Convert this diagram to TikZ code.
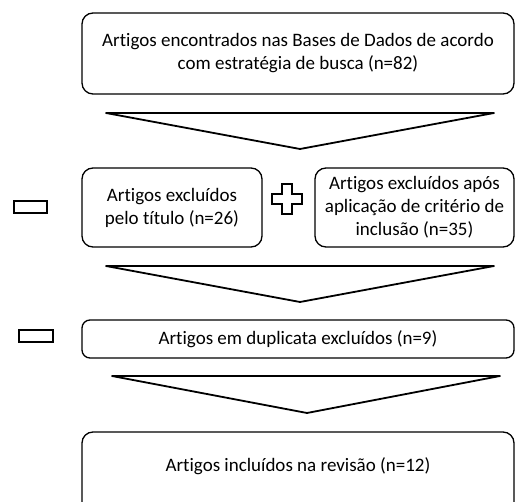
\documentclass[tikz,border=0pt]{standalone}
\usepackage{fontspec}
\setmainfont{Carlito}[Ligatures=NoCommon]
\usepackage{tikz}
\usetikzlibrary{positioning,calc}

\begin{document}
\begin{tikzpicture}[x = 1pt, y = -1pt,
  box/.style = {draw, line width=1.3pt, rounded corners=11pt, align=center,
    font=\fontsize{19}{23}\selectfont, inner sep=0pt},
  chev/.style = {draw, line width=1.8pt, line join=round},
  sign/.style = {draw, line width=1.6pt, fill=white}]
\useasboundingbox (0,0) rectangle (515,502);
\clip (0,0) rectangle (515,502);

\node[box, minimum width=432pt, minimum height=81pt] (busca) at (298, 53.5)
  {Artigos encontrados nas Bases de Dados de acordo\\com estratégia de busca (n=82)};
\node[box, minimum width=180pt, minimum height=79pt] (titulo) at (172, 207.5)
  {Artigos excluídos\\pelo título (n=26)};
\node[box, minimum width=199pt, minimum height=79pt] (criterio) at (414.5, 207.5)
  {Artigos excluídos após\\aplicação de critério de\\inclusão (n=35)};
\node[box, rounded corners=8pt, minimum width=432pt, minimum height=38pt] (dupl) at (298, 339)
  {Artigos em duplicata excluídos (n=9)};
\node[font=\fontsize{19}{23}\selectfont] (incl) at (298, 466)
  {Artigos incluídos na revisão (n=12)};
\draw[line width=1.3pt, rounded corners=11pt] (82,432) rectangle (514,530);

% arrows between the steps
\draw[chev] (106,113) -- (494,113) -- (300,149) -- cycle;
\draw[chev] (106,266) -- (494,266) -- (300,302) -- cycle;
\draw[chev] (112,376) -- (500,376) -- (307,413) -- cycle;

% minus and plus signs
\draw[sign] (14,201) rectangle (47,213);
\draw[sign] (19,330) rectangle (53,342);
\draw[sign] (282,184) -- (292,184) -- (292,194) -- (302,194) -- (302,204)
  -- (292,204) -- (292,214) -- (282,214) -- (282,204) -- (272,204)
  -- (272,194) -- (282,194) -- cycle;

\end{tikzpicture}
\end{document}
